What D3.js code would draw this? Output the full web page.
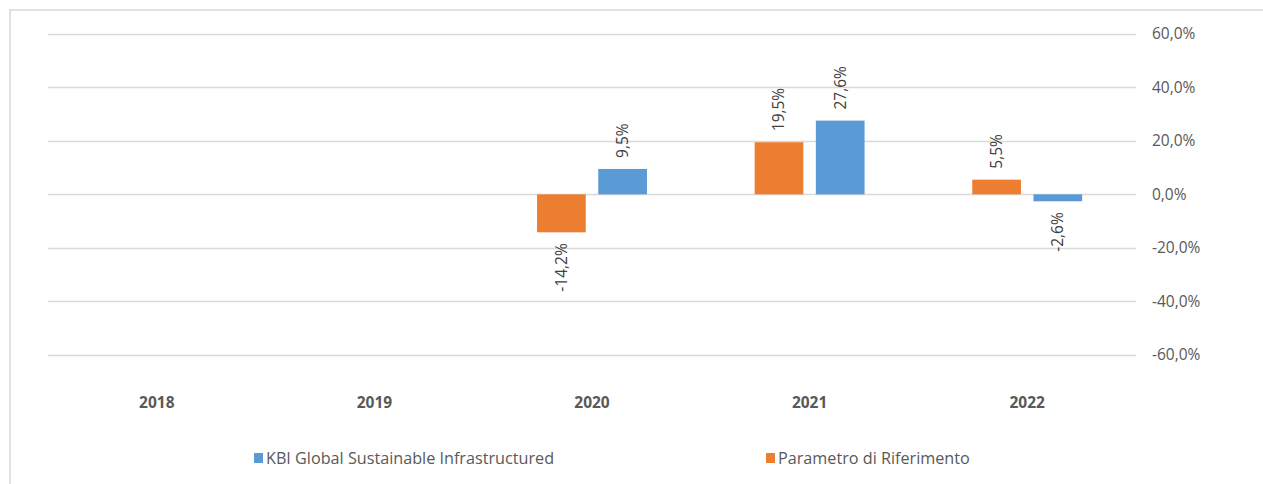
<!DOCTYPE html>
<html><head><meta charset="utf-8">
<script src="https://cdn.jsdelivr.net/npm/d3@7"></script>
<style>
html,body{margin:0;padding:0;background:#fff;}
svg{display:block;font-family:"Open Sans",sans-serif;}
</style></head>
<body>
<svg id="chart" width="1263" height="484"></svg>
<script>
const categories = ["2018","2019","2020","2021","2022"];
const seriesNames = ["Parametro di Riferimento","KBI Global Sustainable Infrastructured"];
const benchmarkValues = [null, null, -14.2, 19.5, 5.5];
const fundValues = [null, null, 9.5, 27.6, -2.6];
const yTicks = [60, 40, 20, 0, -20, -40, -60];
const legendOrder = ["KBI Global Sustainable Infrastructured","Parametro di Riferimento"];
const colors = {"Parametro di Riferimento":"#ED7D31","KBI Global Sustainable Infrastructured":"#5B9BD5"};

const svg = d3.select("#chart");
const fmt = v => d3.format(".1f")(v).replace(".", ",").replace("\u2212", "-") + "%";

// chart border
svg.append("path").attr("d","M10,490 L10,10 L1270,10")
  .attr("fill","none").attr("stroke","#D9D9D9").attr("stroke-width",1.5);

const x0 = d3.scaleBand().domain(categories).range([48,1136]).padding(0);
const x1 = d3.scaleBand().domain(seriesNames).range([0, x0.bandwidth()]).paddingInner(0.204).paddingOuter(0.88);
const y = d3.scaleLinear().domain([-60,60]).range([354.7,34]);

// gridlines
svg.append("g").selectAll("line").data(yTicks).join("line")
  .attr("x1",48).attr("x2",1136)
  .attr("y1",d=>Math.round(y(d))+0.5).attr("y2",d=>Math.round(y(d))+0.5)
  .attr("stroke","#D9D9D9").attr("stroke-width",1.3);

// y axis labels (right)
const yAxis = d3.axisRight(y).tickValues(yTicks).tickFormat(fmt).tickSize(0).tickPadding(0);
const ga = svg.append("g").attr("transform","translate(1152,0)").call(yAxis);
ga.select(".domain").remove();
ga.selectAll("text").attr("fill","#595959").attr("font-size","15.5px").attr("font-family","Open Sans, sans-serif");

// x axis labels
const xAxis = d3.axisBottom(x0).tickSize(0).tickPadding(0);
const gx = svg.append("g").attr("transform","translate(0,397)").call(xAxis);
gx.select(".domain").remove();
gx.selectAll("text").attr("fill","#595959").attr("font-size","15.5px").attr("font-weight","bold").attr("font-family","Open Sans, sans-serif");

const data = [];
categories.forEach((c,i)=>{
  data.push({cat:c, s:seriesNames[0], v:benchmarkValues[i]});
  data.push({cat:c, s:seriesNames[1], v:fundValues[i]});
});
const valid = data.filter(d=>d.v!==null);

svg.append("g").selectAll("rect").data(valid).join("rect")
  .attr("x",d=>x0(d.cat)+x1(d.s))
  .attr("width",x1.bandwidth())
  .attr("y",d=>Math.min(y(d.v),y(0)))
  .attr("height",d=>Math.abs(y(d.v)-y(0)))
  .attr("fill",d=>colors[d.s]);

// data labels
svg.append("g").selectAll("text").data(valid).join("text")
  .attr("transform",d=>{
    const cx = x0(d.cat)+x1(d.s)+x1.bandwidth()/2;
    const yy = d.v>=0 ? y(d.v)-11 : y(d.v)+11;
    return `translate(${cx},${yy}) rotate(-90)`;
  })
  .attr("text-anchor",d=>d.v>=0?"start":"end")
  .attr("dy","0.35em")
  .attr("fill","#404040").attr("font-size","15.5px")
  .text(d=>fmt(d.v));

// legend
const legX = {"KBI Global Sustainable Infrastructured":254,"Parametro di Riferimento":766};
const lg = svg.append("g").selectAll("g").data(legendOrder).join("g")
  .attr("transform",d=>`translate(${legX[d]},453)`);
lg.append("rect").attr("width",9).attr("height",10).attr("fill",d=>colors[d]);
lg.append("text").attr("x",12).attr("y",5).attr("dy","0.35em")
  .attr("fill","#595959").attr("font-size","16.2px").text(d=>d);
</script>
</body></html>
